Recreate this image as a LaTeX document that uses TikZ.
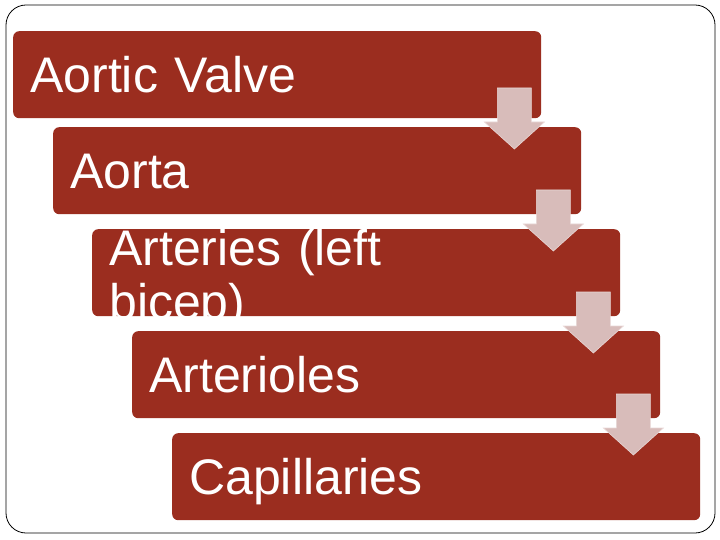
\documentclass[tikz,border=0pt]{standalone}
\usepackage{fontspec}
\setmainfont{Liberation Sans}
\usetikzlibrary{calc}

\definecolor{flowred}{HTML}{9B2D1F}
\definecolor{flowarrow}{HTML}{D8BCBA}

\begin{document}
\begin{tikzpicture}[x=1pt, y=-1pt,
    stage/.style={fill=flowred, text=white, rounded corners=6pt, anchor=north west,
      minimum width=528pt, minimum height=87pt, text width=494pt, align=left,
      inner xsep=17pt, inner ysep=0pt, text height=36pt, text depth=0pt,
      font=\fontsize{50}{54}\selectfont},
    downarrow/.style={fill=flowarrow, draw=flowarrow!60!white, line width=0.6pt}]
  \useasboundingbox (0,0) rectangle (720,540);
  \draw[rounded corners=20pt, line width=0.8pt] (6,5) rectangle (715,533);
  \node[stage] (valve) at (13,31) {Aortic Valve};
  \node[stage] (aorta) at (53,127) {Aorta};
  \node[stage, text depth=51pt] (arteries) at (92,229) {Arteries (left\\bicep)};
  \node[stage] (arterioles) at (132,331) {Arterioles};
  \node[stage] (capillaries) at (172,433) {Capillaries};
  \foreach \down in {aorta, arteries, arterioles, capillaries}
    \draw[downarrow] ($(\down.north east)+(-67,22)$) -- ++(30,-27) -- ++(-13,0) -- ++(0,-34)
      -- ++(-34,0) -- ++(0,34) -- ++(-13,0) -- cycle;
\end{tikzpicture}
\end{document}
